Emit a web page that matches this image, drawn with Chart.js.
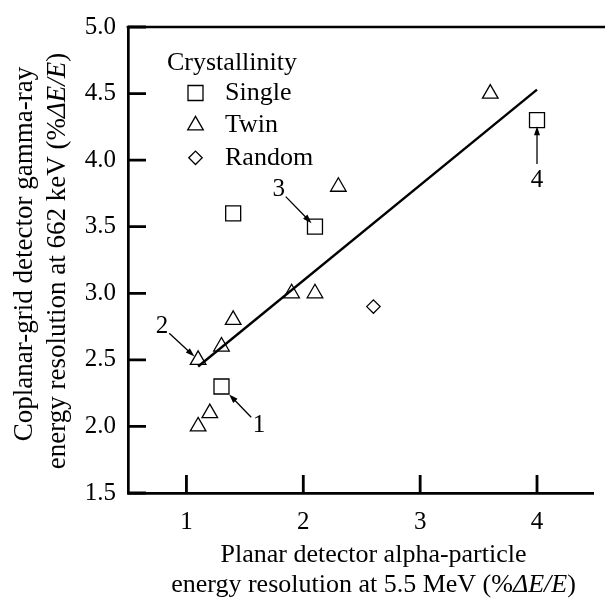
<!DOCTYPE html>
<html>
<head>
<meta charset="utf-8">
<script src="https://cdn.jsdelivr.net/npm/chart.js@4.4.1/dist/chart.umd.min.js"></script>
<style>
  html, body { margin: 0; padding: 0; background: #fff; }
  #chart { display: block; }
</style>
</head>
<body>
<canvas id="chart" width="605" height="604"></canvas>
<script>
// crystallinity groups
const singleX = [1.4, 2.1, 4.0, 1.3];
const singleY = [3.6, 3.5, 4.3, 2.3];
const twinX = [3.6, 2.3, 1.9, 2.1, 1.4, 1.3, 1.1, 1.2, 1.1];
const twinY = [4.5, 3.8, 3.0, 3.0, 2.8, 2.6, 2.5, 2.1, 2.0];
const randomX = [2.6];
const randomY = [2.9];

// fitted line
const fitX = [1.1, 4.0];
const fitY = [2.45, 4.53];

// axis ticks
const xTicks = [1, 2, 3, 4];
const yTicks = [1.5, 2.0, 2.5, 3.0, 3.5, 4.0, 4.5, 5.0];

// numbered callouts: where the number sits -> point it marks
const noteText = ['1', '2', '3', '4'];
const noteX = [1.62, 0.79, 1.79, 4.0];
const noteY = [2.01, 2.75, 3.78, 3.85];
const noteToX = [1.3, 1.1, 2.1, 4.0];
const noteToY = [2.3, 2.5, 3.5, 4.3];

const FONT = '"Liberation Serif", "Times New Roman", Times, serif';
const tailGap = [11, 10, 10, 16];
const tipGap = [11, 5, 5, 6];

const pts = (xs, ys) => xs.map((x, i) => ({x: x, y: ys[i]}));

Chart.defaults.font.family = FONT;
Chart.defaults.color = '#000';

// draws text pieces in a row, some italic, centred on 0
function drawRich(ctx, parts, size) {
  let total = 0;
  parts.forEach(p => {
    ctx.font = (p[1] ? 'italic ' : '') + size + 'px ' + FONT;
    total += ctx.measureText(p[0]).width;
  });
  let x = -total / 2;
  ctx.textAlign = 'left';
  parts.forEach(p => {
    ctx.font = (p[1] ? 'italic ' : '') + size + 'px ' + FONT;
    ctx.fillText(p[0], x, 0);
    x += ctx.measureText(p[0]).width;
  });
}

const decor = {
  id: 'decor',
  afterDraw(chart) {
    const ctx = chart.ctx;
    const ca = chart.chartArea;
    const xs = chart.scales.x, ys = chart.scales.y;
    ctx.save();
    ctx.strokeStyle = '#000';
    ctx.fillStyle = '#000';

    // top spine
    ctx.lineWidth = 2.7;
    ctx.beginPath();
    ctx.moveTo(ca.left - 1.35, ca.top);
    ctx.lineTo(chart.width, ca.top);
    ctx.stroke();

    // inward ticks
    ctx.lineWidth = 2.8;
    ctx.beginPath();
    yTicks.forEach(v => {
      const py = ys.getPixelForValue(v);
      ctx.moveTo(ca.left, py);
      ctx.lineTo(ca.left + 18, py);
    });
    xTicks.forEach(v => {
      const px = xs.getPixelForValue(v);
      ctx.moveTo(px, ca.bottom);
      ctx.lineTo(px, ca.bottom - 18);
    });
    ctx.stroke();

    // legend
    ctx.font = '26px ' + FONT;
    ctx.textBaseline = 'middle';
    ctx.textAlign = 'left';
    ctx.fillText('Crystallinity', ca.left + 39, ca.top + 36);
    const groups = chart.data.datasets.filter(d => d.pointStyle);
    groups.forEach((d, i) => {
      const ry = ca.top + 66 + i * 32.4;
      ctx.lineWidth = d.borderWidth;
      ctx.fillStyle = 'rgba(0,0,0,0)';
      Chart.helpers.drawPoint(ctx, {
        pointStyle: d.pointStyle, radius: d.pointRadius, borderWidth: d.borderWidth, rotation: 0
      }, ca.left + 67.5, ry);
      ctx.fillStyle = '#000';
      ctx.fillText(d.label, ca.left + 97, ry);
    });

    // callouts
    ctx.font = '25px ' + FONT;
    ctx.textAlign = 'center';
    ctx.lineWidth = 1.3;
    noteText.forEach((t, i) => {
      const lx = xs.getPixelForValue(noteX[i]), ly = ys.getPixelForValue(noteY[i]);
      const tx = xs.getPixelForValue(noteToX[i]), ty = ys.getPixelForValue(noteToY[i]);
      ctx.fillText(t, lx, ly);
      const len = Math.hypot(tx - lx, ty - ly);
      const dx = (tx - lx) / len, dy = (ty - ly) / len;
      const ax = lx + dx * tailGap[i], ay = ly + dy * tailGap[i];
      const bx = tx - dx * tipGap[i], by = ty - dy * tipGap[i];
      ctx.beginPath();
      ctx.moveTo(ax, ay);
      ctx.lineTo(bx - dx * 6, by - dy * 6);
      ctx.stroke();
      ctx.beginPath();
      ctx.moveTo(bx, by);
      ctx.lineTo(bx - dx * 9 - dy * 3, by - dy * 9 + dx * 3);
      ctx.lineTo(bx - dx * 9 + dy * 3, by - dy * 9 - dx * 3);
      ctx.closePath();
      ctx.fill();
    });

    // axis titles
    ctx.textBaseline = 'alphabetic';
    ctx.save();
    ctx.translate(373.5, 562);
    drawRich(ctx, [['Planar detector alpha-particle', false]], 26);
    ctx.translate(0, 29.5);
    drawRich(ctx, [['energy resolution at 5.5 MeV (%', false], ['\u0394E/E', true], [')', false]], 26);
    ctx.restore();

    const cy = (ca.top + ca.bottom) / 2;
    ctx.save();
    ctx.translate(32, cy - 6);
    ctx.rotate(-Math.PI / 2);
    drawRich(ctx, [['Coplanar-grid detector gamma-ray', false]], 27);
    ctx.restore();
    ctx.save();
    ctx.translate(65, cy + 1);
    ctx.rotate(-Math.PI / 2);
    drawRich(ctx, [['energy resolution at 662 keV (%', false], ['\u0394E/E', true], [')', false]], 27);
    ctx.restore();

    ctx.restore();
  }
};

const ctx = document.getElementById('chart').getContext('2d');
new Chart(ctx, {
  type: 'scatter',
  data: {
    datasets: [
      {label: 'Single', data: pts(singleX, singleY), pointStyle: 'rect', pointRadius: 10.6,
       borderColor: '#000', backgroundColor: 'rgba(0,0,0,0)', borderWidth: 1.3},
      {label: 'Twin', data: pts(twinX, twinY), pointStyle: 'triangle', pointRadius: 9,
       borderColor: '#000', backgroundColor: 'rgba(0,0,0,0)', borderWidth: 1.3},
      {label: 'Random', data: pts(randomX, randomY), pointStyle: 'rectRot', pointRadius: 6.7,
       borderColor: '#000', backgroundColor: 'rgba(0,0,0,0)', borderWidth: 1.3},
      {type: 'line', label: 'fit', data: pts(fitX, fitY), showLine: true, borderColor: '#000',
       borderWidth: 2.4, pointRadius: 0, fill: false}
    ]
  },
  options: {
    responsive: false,
    animation: false,
    devicePixelRatio: 1,
    layout: {padding: {top: 16, left: 0, right: 0, bottom: 0}},
    plugins: {legend: {display: false}, tooltip: {enabled: false}},
    scales: {
      x: {
        type: 'linear', min: 0.5, max: 4.48,
        afterFit: s => { s.height = 111; },
        afterBuildTicks: s => { s.ticks = xTicks.map(v => ({value: v})); },
        grid: {drawOnChartArea: false, drawTicks: false},
        border: {color: '#000', width: 2.7},
        ticks: {color: '#000', font: {size: 25}, padding: 14, callback: v => String(v)}
      },
      y: {
        type: 'linear', min: 1.5, max: 5.0,
        afterFit: s => { s.width = 128; },
        afterBuildTicks: s => { s.ticks = yTicks.map(v => ({value: v})); },
        grid: {drawOnChartArea: false, drawTicks: false},
        border: {color: '#000', width: 2.7},
        ticks: {color: '#000', font: {size: 25}, padding: 12, callback: v => v.toFixed(1)}
      }
    }
  },
  plugins: [decor]
});
</script>
</body>
</html>
